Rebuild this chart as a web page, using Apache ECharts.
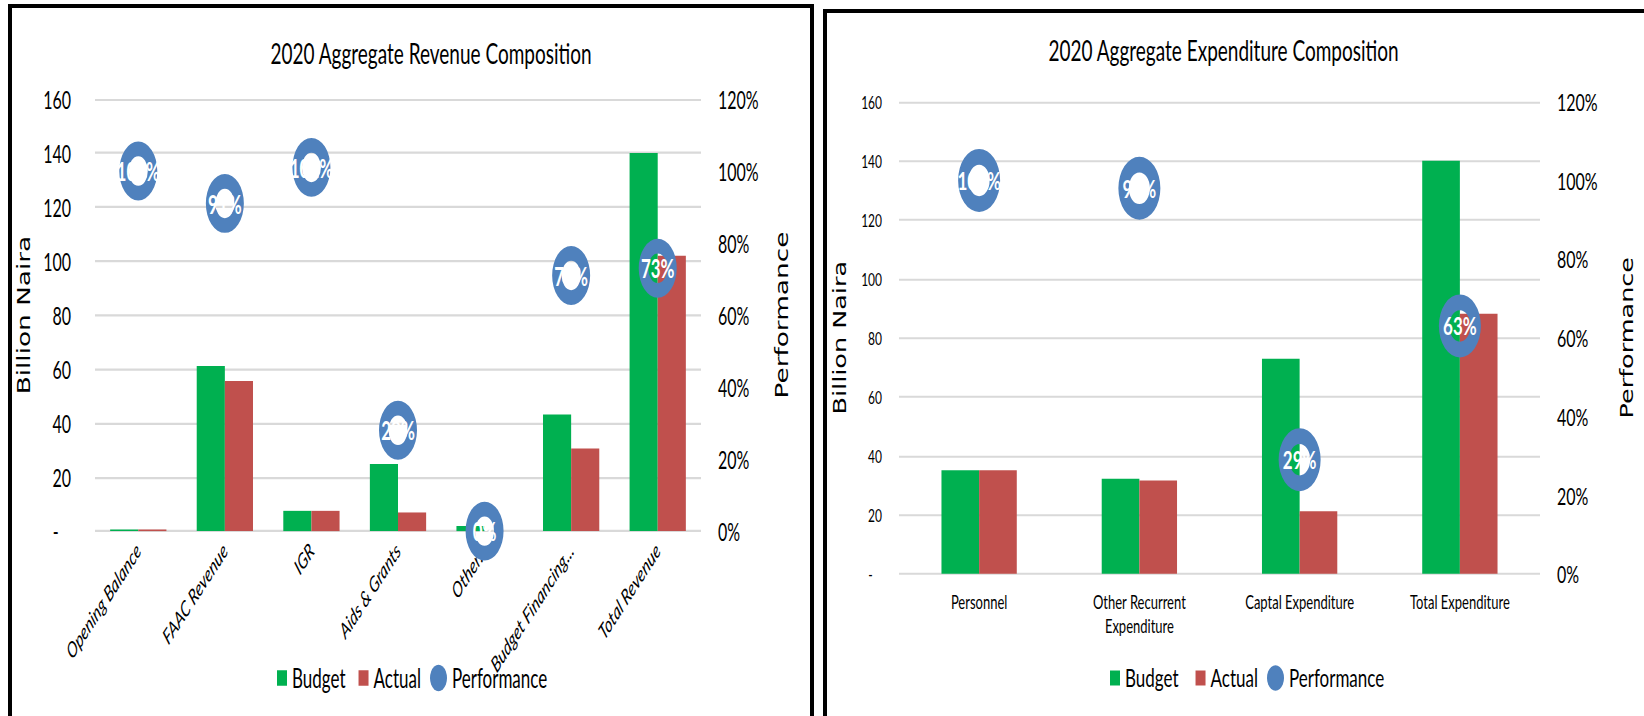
<!DOCTYPE html>
<html>
<head>
<meta charset="utf-8">
<script src="https://cdn.jsdelivr.net/npm/echarts@6/dist/echarts.min.js"></script>
<style>
  html, body { margin: 0; padding: 0; background: #fff; }
  body { width: 1644px; height: 716px; overflow: hidden; position: relative; }
  .panel { position: absolute; top: 0; height: 716px; }
  .stretch { position: absolute; left: 0; top: 0; transform-origin: 0 0; }
  .frame { position: absolute; background: #000; z-index: 5; }
</style>
</head>
<body>
<div class="panel" style="left:0;width:820px;"><div id="rev" class="stretch" style="width:820px;"></div></div>
<div class="panel" style="left:820px;width:824px;"><div id="exp" class="stretch" style="width:824px;"></div></div>

<!-- panel frames -->
<div class="frame" style="left:8px;top:4px;width:4px;height:712px;"></div>
<div class="frame" style="left:8px;top:4px;width:806px;height:4px;"></div>
<div class="frame" style="left:810px;top:4px;width:4px;height:712px;"></div>
<div class="frame" style="left:823px;top:9px;width:4px;height:707px;"></div>
<div class="frame" style="left:823px;top:9px;width:821px;height:4px;"></div>

<script>
// ---- Revenue data (billion naira) ----
const revCategories = ['Opening Balance', 'FAAC Revenue', 'IGR', 'Aids & Grants', 'Other...', 'Budget Financing...', 'Total Revenue'];
const revBudget = [0.6, 61.1, 7.5, 24.8, 1.9, 43.2, 140];
const revActual = [0.6, 55.6, 7.5, 6.9, 0, 30.6, 102];
const revPerformance = [1.00, 0.91, 1.01, 0.28, 0.00, 0.71, 0.73];

// ---- Expenditure data (billion naira) ----
const expCategories = ['Personnel', 'Other Recurrent\nExpenditure', 'Captal Expenditure', 'Total Expenditure'];
const expBudget = [35.1, 32.2, 72.9, 140];
const expActual = [35.1, 31.6, 21.2, 88.1];
const expPerformance = [1.00, 0.98, 0.29, 0.63];

// ---- Axis scales ----
const amountAxis = { min: 0, max: 160, interval: 20 };
const percentAxis = { min: 0, max: 1.2, interval: 0.2 };

const GREEN = '#00B050';
const RED = '#C0504D';
const BLUE = '#4F81BD';
const GRID = '#D9D9D9';
const FONT = 'Lato';

// ring marker: outer disc with a hollow centre
const RING = 'path://M50,0A50,50 0 1,1 50,100A50,50 0 1,1 50,0ZM50,25A25,25 0 1,0 50,75A25,25 0 1,0 50,25Z';

function buildOption(cfg) {
  return {
    animation: false,
    graphic: [{
      type: 'text',
      x: cfg.titleX,
      y: cfg.titleY,
      style: {
        text: cfg.title, fill: '#000', fontFamily: FONT, fontSize: 19,
        align: 'center', verticalAlign: 'middle'
      }
    }],
    legend: [{
      left: cfg.legendLeft, top: cfg.legendTop,
      itemWidth: 10, itemHeight: 10, itemGap: cfg.legendGap,
      selectedMode: false,
      data: [{ name: 'Budget', icon: 'rect' }, { name: 'Actual', icon: 'rect' }],
      textStyle: { fontFamily: FONT, fontSize: 17, color: '#000' }
    }, {
      left: cfg.legendPerfLeft, top: cfg.legendTop,
      itemWidth: 17, itemHeight: 17,
      selectedMode: false,
      data: [{ name: 'Performance', icon: 'circle' }],
      textStyle: { fontFamily: FONT, fontSize: 17, color: '#000' }
    }],
    grid: cfg.grid,
    xAxis: {
      type: 'category',
      data: cfg.categories,
      axisLine: { show: false },
      axisTick: { show: false },
      axisLabel: cfg.xLabel
    },
    yAxis: [{
      type: 'value',
      min: amountAxis.min, max: amountAxis.max, interval: amountAxis.interval,
      name: 'Billion Naira', nameLocation: 'middle', nameGap: cfg.leftNameGap,
      nameTextStyle: { fontFamily: 'DejaVu Sans', fontSize: 17, color: '#000' },
      axisLine: { show: false }, axisTick: { show: false },
      axisLabel: {
        fontFamily: FONT, fontSize: cfg.leftLabelSize, color: '#000', margin: cfg.leftLabelMargin,
        formatter: v => (v === 0 ? '-   ' : String(v))
      },
      splitLine: { lineStyle: { color: GRID, width: 1.4 } }
    }, {
      type: 'value',
      min: percentAxis.min, max: percentAxis.max, interval: percentAxis.interval,
      name: 'Performance', nameLocation: 'middle', nameGap: cfg.rightNameGap,
      nameTextStyle: { fontFamily: 'DejaVu Sans', fontSize: 17, color: '#000' },
      axisLine: { show: false }, axisTick: { show: false },
      axisLabel: {
        fontFamily: FONT, fontSize: 16, color: '#000', margin: 17,
        formatter: v => Math.round(v * 100) + '%'
      },
      splitLine: { show: false }
    }],
    series: [{
      name: 'Budget', type: 'bar', data: cfg.budget,
      barGap: '0%', barCategoryGap: cfg.catGap,
      itemStyle: { color: GREEN }
    }, {
      name: 'Actual', type: 'bar', data: cfg.actual,
      itemStyle: { color: RED }
    }, {
      name: 'Performance', type: 'scatter', yAxisIndex: 1, z: 4,
      data: cfg.performance.map((v, i) => [i, v]),
      symbol: RING, symbolSize: cfg.markerSize,
      itemStyle: { color: BLUE, opacity: 1 },
      label: {
        show: true, position: 'inside', color: '#fff',
        fontFamily: FONT, fontWeight: 'bold', fontSize: 17,
        formatter: p => Math.round(p.value[1] * 100) + '%'
      }
    }]
  };
}

function mount(id, k, cfg) {
  const el = document.getElementById(id);
  el.style.height = (716 / k) + 'px';
  el.style.transform = 'scaleY(' + k + ')';
  const chart = echarts.init(el, null, { renderer: 'svg' });
  chart.setOption(buildOption(cfg));
}

// Revenue chart (drawn compact, then stretched vertically)
const REV_K = 1.55;
mount('rev', REV_K, {
  title: '2020 Aggregate Revenue Composition',
  titleX: 431, titleY: 52.5 / REV_K,
  categories: revCategories, budget: revBudget, actual: revActual, performance: revPerformance,
  grid: { left: 95, right: 820 - 701, top: 99 / REV_K, bottom: 716 / REV_K - 531 / REV_K },
  catGap: '35%', markerSize: 38,
  leftLabelSize: 16, leftLabelMargin: 24,
  leftNameGap: 60, rightNameGap: 72,
  xLabel: {
    interval: 0, rotate: 45, margin: 10,
    fontFamily: FONT, fontStyle: 'italic', fontSize: 14, color: '#000'
  },
  legendLeft: 272, legendGap: 13, legendPerfLeft: 425, legendTop: 678 / REV_K - 13.5
});

// Expenditure chart
const EXP_K = 1.5;
mount('exp', EXP_K, {
  title: '2020 Aggregate Expenditure Composition',
  titleX: 1223.5 - 820, titleY: 50 / EXP_K,
  categories: expCategories, budget: expBudget, actual: expActual, performance: expPerformance,
  grid: { left: 899 - 820, right: 1644 - 1553, top: 101.7 / EXP_K, bottom: 716 / EXP_K - 574.3 / EXP_K },
  catGap: '53%', markerSize: 42,
  leftLabelSize: 12, leftLabelMargin: 17,
  leftNameGap: 50, rightNameGap: 79,
  xLabel: {
    interval: 0, margin: 11, lineHeight: 16,
    fontFamily: FONT, fontSize: 13, color: '#000'
  },
  legendLeft: 1105 - 820, legendGap: 17, legendPerfLeft: 1262 - 820, legendTop: 678 / EXP_K - 13.5
});
</script>
</body>
</html>
